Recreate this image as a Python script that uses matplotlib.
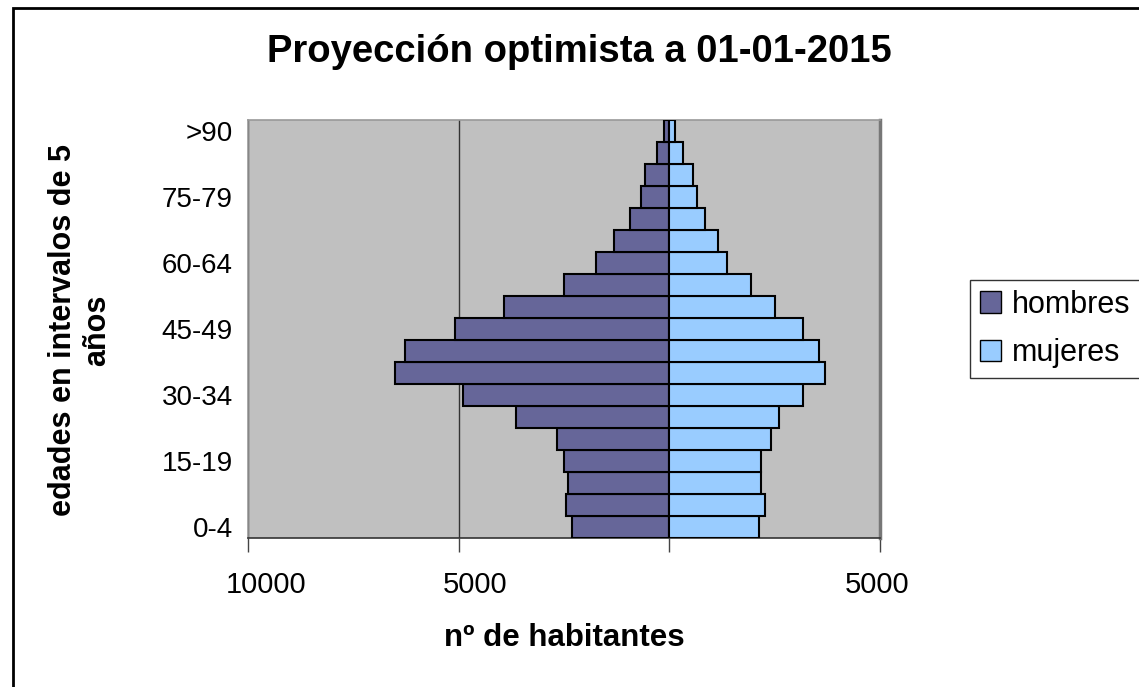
import matplotlib
matplotlib.use("Agg")
import matplotlib.pyplot as plt
from matplotlib.patches import Rectangle, Patch
from matplotlib.ticker import FixedLocator, NullFormatter

plt.rcParams['font.family'] = ['Liberation Sans', 'DejaVu Sans']

age_groups = ["0-4", "5-9", "10-14", "15-19", "20-24", "25-29", "30-34", "35-39",
              "40-44", "45-49", "50-54", "55-59", "60-64", "65-69", "70-74",
              "75-79", "80-84", "85-89", ">90"]
hombres = [2308, 2449, 2402, 2497, 2676, 3630, 4906, 6519, 6276, 5095,
           3914, 2497, 1748, 1323, 945, 661, 567, 291, 118]
mujeres = [2126, 2268, 2173, 2173, 2409, 2598, 3165, 3685, 3543, 3165,
           2511, 1944, 1370, 1150, 850, 661, 567, 331, 142]
x_ticks = [-10000, -5000, 0, 5000]
x_tick_labels = ["10000", "5000", "", "5000"]

title = "Proyección optimista a 01-01-2015"
xlabel = "nº de habitantes"
ylabel = "edades en intervalos de 5\naños"

W, H = 1139, 687
fig = plt.figure(figsize=(W / 100, H / 100), dpi=100)
ax = fig.add_axes([248 / W, 1 - 538 / H, (880 - 248) / W, (538 - 120) / H])
ax.set_facecolor('#C0C0C0')

ypos = list(range(len(age_groups)))
ax.barh(ypos, [-v for v in hombres], height=1.0, color='#666699',
        edgecolor='black', linewidth=1.5, zorder=3, label='hombres')
ax.barh(ypos, mujeres, height=1.0, color='#99CCFF',
        edgecolor='black', linewidth=1.5, zorder=3, label='mujeres')

ax.set_xlim(-10000, 5000)
ax.set_ylim(-0.5, len(age_groups) - 0.5)
ax.xaxis.set_major_locator(FixedLocator(x_ticks))
ax.xaxis.set_major_formatter(NullFormatter())
ax.grid(axis='x', color='#333333', linewidth=1.0, zorder=1)
ax.set_axisbelow(True)

# Excel-style tick labels (slightly offset as in the original)
label_dx = [18, 16, 0, -3]
for v, lab, dx in zip(x_ticks, x_tick_labels, label_dx):
    if lab:
        ax.annotate(lab, xy=(v, 0), xycoords=('data', 'axes fraction'),
                    xytext=(dx, -47), textcoords='offset pixels',
                    ha='center', va='center', fontsize=21,
                    annotation_clip=False)

ax.set_yticks(ypos[::3])
ax.set_yticklabels(age_groups[::3])
ax.tick_params(axis='y', length=0, pad=11, labelsize=20)
ax.tick_params(axis='x', length=10, width=1, color='#444444', direction='out')

for s in ['left', 'top']:
    ax.spines[s].set_color('#999999')
    ax.spines[s].set_linewidth(1.2)
ax.spines['right'].set_color('#777777')
ax.spines['right'].set_linewidth(2.5)
ax.spines['bottom'].set_color('#333333')
ax.spines['bottom'].set_linewidth(1.2)

fig.text(579 / W, 1 - 52 / H, title, ha='center', va='center',
         fontsize=27.5, fontweight='bold')
fig.text(564 / W, 1 - 638 / H, xlabel, ha='center', va='center',
         fontsize=22.5, fontweight='bold')
fig.text(80 / W, 1 - 330 / H, ylabel, ha='center', va='center',
         fontsize=22, fontweight='bold', rotation=90, multialignment='center',
         linespacing=1.15)

handles = [Patch(facecolor='#666699', edgecolor='black', label='hombres'),
           Patch(facecolor='#99CCFF', edgecolor='black', label='mujeres')]
leg = fig.legend(handles=handles, loc='upper left',
                 bbox_to_anchor=(970 / W, 1 - 280 / H, 200 / W, 0.0),
                 mode='expand',
                 bbox_transform=fig.transFigure, fontsize=22,
                 frameon=True, fancybox=False, edgecolor='black',
                 handlelength=0.7, handleheight=0.7, handletextpad=0.35,
                 borderpad=0.32, labelspacing=0.6, borderaxespad=0)
leg.get_frame().set_linewidth(1.0)

fig.patches.append(Rectangle((12.5 / W, -0.05), 1.2, 1 - 8 / H + 0.05,
                             transform=fig.transFigure, fill=False,
                             edgecolor='black', linewidth=2, figure=fig))

fig.savefig('out.png', dpi=100, facecolor='white')
